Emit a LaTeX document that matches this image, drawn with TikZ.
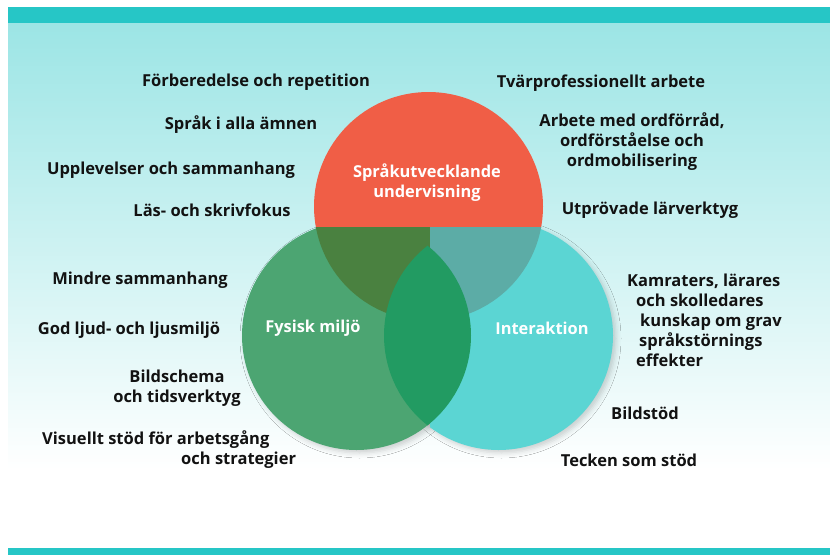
\documentclass[tikz,border=0pt]{standalone}
\usepackage{fontspec}
\setmainfont{Open Sans}
\usetikzlibrary{calc,shadows.blur}

\definecolor{barteal}{HTML}{26C6C6}
\definecolor{bgtop}{HTML}{9CE5E5}
\definecolor{redc}{HTML}{F05E46}
\definecolor{greenc}{HTML}{4CA572}
\definecolor{tealc}{HTML}{5BD5D3}
\definecolor{redgreen}{HTML}{4A8140}
\definecolor{redteal}{HTML}{5CACA6}
\definecolor{lensc}{HTML}{229B62}

\begin{document}
\begin{tikzpicture}[x=1pt,y=-1pt,
  lbl/.style={font=\fontsize{16.5}{20}\selectfont\bfseries, text=black!93, inner sep=0pt},
  inlbl/.style={font=\fontsize{16.4}{20}\selectfont\bfseries, text=white, inner sep=0pt, align=center},
  shd/.style={blur shadow={shadow xshift=3pt, shadow yshift=-3pt, shadow blur radius=5pt, shadow opacity=18}}]
\useasboundingbox (0,0) rectangle (830,555);
\fill[white] (0,0) rectangle (830,555);
% background and bars
\shade[top color=bgtop, bottom color=white] (8,23) rectangle (830,470);
\fill[barteal] (8,7) rectangle (830,23);
\fill[barteal] (8,548) rectangle (830,555);

\coordinate (rc) at (428.5,206.5);
\coordinate (gc) at (356.5,335.5);
\coordinate (tc) at (498.5,335.5);
\def\rad{114.5}

% shadows
\path[shd] (gc) circle (\rad);
\path[shd] (tc) circle (\rad);

% red circle
\fill[redc] (rc) circle (\rad);

% green and teal halves
\begin{scope}
\clip (200,227) rectangle (430,470);
\fill[greenc] (gc) circle (\rad);
\clip (rc) circle (\rad);
\fill[redgreen] (200,227) rectangle (430,470);
\end{scope}
\begin{scope}
\clip (430,227) rectangle (660,470);
\fill[tealc] (tc) circle (\rad);
\clip (rc) circle (\rad);
\fill[redteal] (430,227) rectangle (660,470);
\end{scope}

% lens
\begin{scope}
\clip (gc) circle (\rad);
\fill[lensc] (tc) circle (\rad);
\end{scope}

% circle labels
\node[inlbl] (sprak) at (427,183) {Språkutvecklande\\undervisning};
\node[inlbl] (fysisk) at (313,328) {Fysisk miljö};
\node[inlbl] (inter) at (542,328) {Interaktion};

% left column
\node[lbl] (forb) at (256,82) {Förberedelse och repetition};
\node[lbl] (amnen) at (241,125) {Språk i alla ämnen};
\node[lbl] (uppl) at (171,170) {Upplevelser och sammanhang};
\node[lbl] (lasskriv) at (212,210) {Läs- och skrivfokus};
\node[lbl] (mindre) at (140,280) {Mindre sammanhang};
\node[lbl] (ljud) at (129,330) {God ljud- och ljusmiljö};
\node[lbl, align=center] (bild) at (177,388) {Bildschema\\och tidsverktyg};
\node[lbl, align=left, anchor=west] (visuellt) at (42,450)
  {Visuellt stöd för arbetsgång\\\hspace*{139pt}och strategier};

% right column
\node[lbl] (tvar) at (601,83) {Tvärprofessionellt arbete};
\node[lbl, align=center] (ordf) at (632,142) {Arbete med ordförråd,\\ordförståelse och\\ordmobilisering};
\node[lbl] (utprov) at (650,210) {Utprövade lärverktyg};
\node[lbl, align=left, anchor=west] (kamr) at (627,320)
  {Kamraters, lärares\\\hspace*{9pt}och skolledares\\\hspace*{13pt}kunskap om grav\\\hspace*{12pt}språkstörnings\\\hspace*{9pt}effekter};
\node[lbl] (bildstod) at (645,413) {Bildstöd};
\node[lbl] (tecken) at (629,460) {Tecken som stöd};
\end{tikzpicture}
\end{document}
